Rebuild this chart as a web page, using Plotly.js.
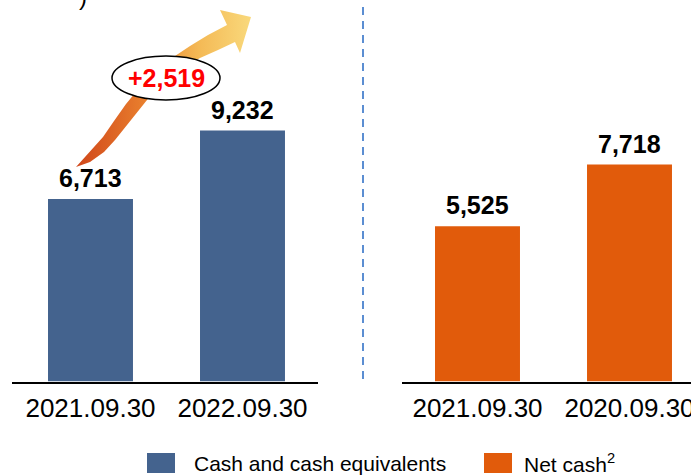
<!DOCTYPE html>
<html>
<head>
<meta charset="utf-8">
<script src="https://cdn.plot.ly/plotly-3.0.1.min.js"></script>
<style>html,body{margin:0;padding:0;background:#fff;}#chart{width:691px;height:475px;}</style>
</head>
<body>
<div id="chart"></div>
<script>
// ---- data ----
const leftCategories = ['2021.09.30', '2022.09.30'];
const cashValues = [6713, 9232];
const rightCategories = ['2021.09.30', '2020.09.30'];
const netCashValues = [5525, 7718];
const changeLabel = '+2,519';
const seriesNames = ['Cash and cash equivalents', 'Net cash'];
const legendLabels = ['Cash and cash equivalents', 'Net cash<sup>2</sup>'];

// ---- styling ----
const W = 691, H = 475;
const FONT = 'Liberation Sans, Arial, sans-serif';
const BLUE = '#44638e';
const ORANGE = '#e15b0b';
const px = x => x / W;
const py = y => 1 - y / H;
const fmt = v => v.toLocaleString('en-US');

// decorative arrow outline (pixel space of the overlay axis)
const arrowX = [76, 90, 103, 114, 126, 140, 156, 172, 190, 208, 227, 220, 251, 240, 235, 218, 200, 185, 168, 155, 146, 135, 124, 115, 104, 90, 76];
const arrowY = [167, 152, 137, 121, 104, 87, 71, 58, 46, 35, 25, 10, 17, 53, 42, 50, 58, 67, 79, 90, 101, 115, 128, 140, 152, 162, 167];

const traces = [
  {
    type: 'bar', name: seriesNames[0], x: leftCategories, y: cashValues,
    xaxis: 'x', yaxis: 'y', width: 0.559, marker: {color: BLUE},
    showlegend: false, hoverinfo: 'x+y'
  },
  {
    type: 'bar', name: seriesNames[1], x: rightCategories, y: netCashValues,
    xaxis: 'x2', yaxis: 'y2', width: 0.559, marker: {color: ORANGE},
    showlegend: false, hoverinfo: 'x+y'
  },
  {
    type: 'scatter', x: arrowX, y: arrowY, xaxis: 'x3', yaxis: 'y3',
    mode: 'lines', line: {width: 0, color: 'rgba(0,0,0,0)'}, fill: 'toself',
    fillgradient: {type: 'horizontal', colorscale: [[0, '#d0461a'], [0.4, '#e9802e'], [0.7, '#f4b955'], [1, '#f9d97c']]},
    showlegend: false, hoverinfo: 'skip'
  }
];

const tickFont = {family: FONT, size: 26, color: '#000'};
const barLabelFont = {family: FONT, size: 25, color: '#000', weight: 'bold'};

const annotations = [];
leftCategories.forEach((c, i) => annotations.push({
  xref: 'x', yref: 'y', x: c, y: cashValues[i], text: '<b>' + fmt(cashValues[i]) + '</b>',
  showarrow: false, yanchor: 'bottom', yshift: 5, font: barLabelFont
}));
rightCategories.forEach((c, i) => annotations.push({
  xref: 'x2', yref: 'y2', x: c, y: netCashValues[i], text: '<b>' + fmt(netCashValues[i]) + '</b>',
  showarrow: false, yanchor: 'bottom', yshift: 5, font: barLabelFont
}));
annotations.push({
  xref: 'x3', yref: 'y3', x: 166, y: 78, text: '<b>' + changeLabel + '</b>', showarrow: false,
  font: {family: FONT, size: 25, color: '#ff0000'}
});
// legend texts
annotations.push({
  xref: 'paper', yref: 'paper', x: px(192), y: py(463), xanchor: 'left', yanchor: 'middle',
  text: legendLabels[0], showarrow: false, font: {family: FONT, size: 21, color: '#000'}
});
annotations.push({
  xref: 'paper', yref: 'paper', x: px(522), y: py(463), xanchor: 'left', yanchor: 'middle',
  text: legendLabels[1], showarrow: false, font: {family: FONT, size: 21, color: '#000'}
});
// cropped title remnant at top-left
annotations.push({
  xref: 'paper', yref: 'paper', x: px(83), y: 1, xanchor: 'center', yanchor: 'bottom', yshift: -12,
  text: ')', showarrow: false, font: {family: FONT, size: 24, color: '#000'}
});

const shapes = [
  {type: 'line', xref: 'paper', yref: 'paper', x0: px(363), x1: px(363), y0: py(7), y1: py(380),
   line: {color: '#5b8ed2', width: 2, dash: '8px,6px'}},
  {type: 'circle', xref: 'x3', yref: 'y3', x0: 112, x1: 220, y0: 56, y1: 100,
   line: {color: '#000', width: 1.5}, fillcolor: '#fff'},
  {type: 'rect', xref: 'paper', yref: 'paper', x0: px(147), x1: px(175), y0: py(453), y1: py(473),
   line: {width: 0}, fillcolor: BLUE},
  {type: 'rect', xref: 'paper', yref: 'paper', x0: px(484), x1: px(512), y0: py(453), y1: py(473),
   line: {width: 0}, fillcolor: ORANGE}
];

const baseY = 381.5;
const layout = {
  width: W, height: H,
  margin: {l: 0, r: 0, t: 0, b: 0},
  paper_bgcolor: '#fff', plot_bgcolor: 'rgba(0,0,0,0)',
  showlegend: false,
  font: {family: FONT, color: '#000'},
  xaxis: {
    domain: [px(12), px(318)], range: [-0.5164, 1.4967], type: 'category', anchor: 'y',
    showline: true, linecolor: '#000', linewidth: 2, ticks: '', showgrid: false, zeroline: false,
    tickfont: tickFont, ticklabelstandoff: 2, fixedrange: true
  },
  yaxis: {
    domain: [py(baseY), 1], range: [0, baseY / 0.02718], anchor: 'x', visible: false, fixedrange: true
  },
  xaxis2: {
    domain: [px(402), 1], range: [-0.4967, 1.4046], type: 'category', anchor: 'y2',
    showline: true, linecolor: '#000', linewidth: 2, ticks: '', showgrid: false, zeroline: false,
    tickfont: tickFont, ticklabelstandoff: 2, fixedrange: true
  },
  yaxis2: {
    domain: [py(baseY), 1], range: [0, baseY / 0.0281], anchor: 'x2', visible: false, fixedrange: true
  },
  xaxis3: {domain: [0, 1], range: [0, W], anchor: 'y3', visible: false, fixedrange: true},
  yaxis3: {domain: [0, 1], range: [H, 0], anchor: 'x3', visible: false, fixedrange: true},
  annotations: annotations,
  shapes: shapes
};

Plotly.newPlot('chart', traces, layout, {displayModeBar: false, staticPlot: true});
</script>
</body>
</html>
